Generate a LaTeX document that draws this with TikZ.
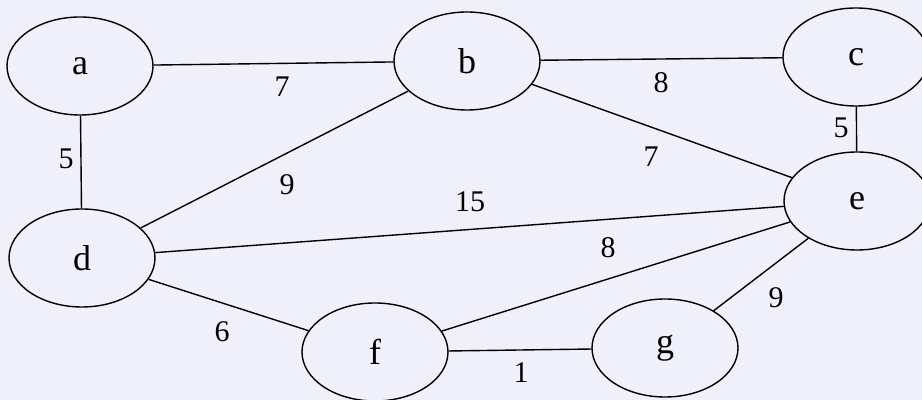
\documentclass[tikz,border=0pt]{standalone}
\usepackage{fontspec}
\setmainfont{Liberation Serif}
\usetikzlibrary{shapes.geometric}

\definecolor{paper}{RGB}{240,240,250}

\begin{document}
\begin{tikzpicture}[x=0.5pt,y=-0.5pt,
  vertex/.style={draw,ellipse,line width=0.7pt,inner sep=0pt,
    minimum width=73pt,minimum height=49pt,font=\fontsize{18}{20}\selectfont},
  link/.style={line width=0.7pt},
  weight/.style={inner sep=1pt,font=\fontsize{15}{18}\selectfont}]

% Background
\fill[paper] (0,0) rectangle (922,400);
\useasboundingbox (0,0) rectangle (922,400);

% Vertices
\node[vertex] (a) at (80,66) {a};
\node[vertex] (b) at (467,61) {b};
\node[vertex] (c) at (856,57) {c};
\node[vertex] (d) at (82,258) {d};
\node[vertex] (e) at (857,201) {e};
\node[vertex] (f) at (375,352) {f};
\node[vertex] (g) at (665,348) {g};

% Edges
\foreach \u/\v in {a/b,b/c,a/d,c/e,b/e,d/b,d/e,f/e,d/f,f/g,g/e}
{
\draw[link] (\u) -- (\v);
}

% Weights
\foreach \n/\x/\y/\w in {ab/282/87/7, bc/661/83/8, ad/66/159/5, ce/841/128/5,
  be/651/157/7, db/287/185/9, de/470/202/15, fe/608/248/8,
  df/222/332/6, fg/521/373/1, ge/776/298/9}
{
\node[weight] (w\n) at (\x,\y) {\w};
}

\end{tikzpicture}
\end{document}
